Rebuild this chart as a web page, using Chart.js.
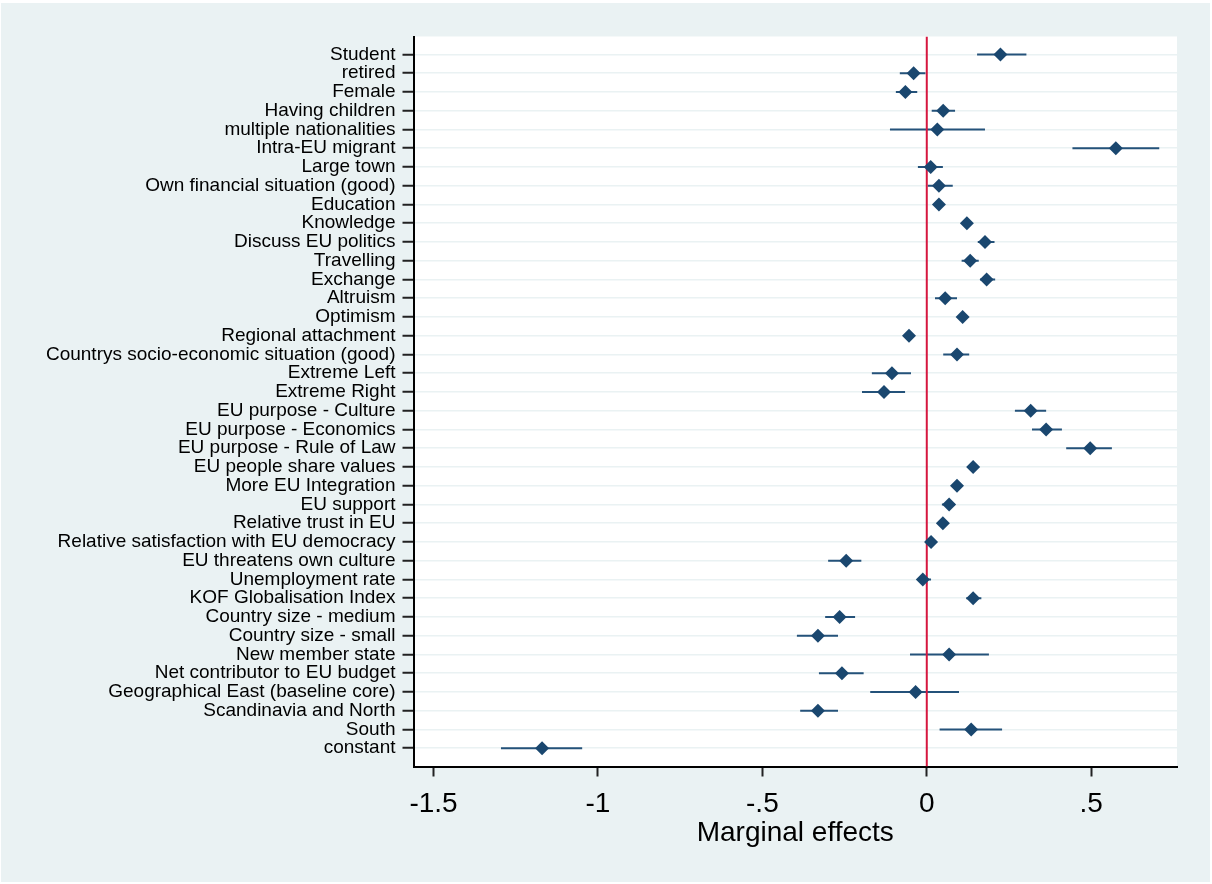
<!DOCTYPE html>
<html>
<head>
<meta charset="utf-8">
<script src="https://cdn.jsdelivr.net/npm/chart.js@4.4.1/dist/chart.umd.min.js"></script>
<style>
  html, body { margin: 0; padding: 0; background: #ffffff; }
  #wrap { position: absolute; left: 1px; top: 3px; width: 1209px; height: 879px; background: #eaf2f3; }
</style>
</head>
<body>
<div id="wrap"><canvas id="coefs" width="1209" height="879"></canvas></div>
<script>
const categories = [
  'Student', 'retired', 'Female', 'Having children', 'multiple nationalities',
  'Intra-EU migrant', 'Large town', 'Own financial situation (good)', 'Education',
  'Knowledge', 'Discuss EU politics', 'Travelling', 'Exchange', 'Altruism', 'Optimism',
  'Regional attachment', 'Countrys socio-economic situation (good)', 'Extreme Left',
  'Extreme Right', 'EU purpose - Culture', 'EU purpose - Economics',
  'EU purpose - Rule of Law', 'EU people share values', 'More EU Integration',
  'EU support', 'Relative trust in EU', 'Relative satisfaction with EU democracy',
  'EU threatens own culture', 'Unemployment rate', 'KOF Globalisation Index',
  'Country size - medium', 'Country size - small', 'New member state',
  'Net contributor to EU budget', 'Geographical East (baseline core)',
  'Scandinavia and North', 'South', 'constant'
];
// point estimates and confidence bounds
const est = [0.224, -0.040, -0.065, 0.050, 0.032, 0.575, 0.012, 0.037, 0.037, 0.122,
  0.177, 0.132, 0.182, 0.056, 0.109, -0.054, 0.092, -0.106, -0.130, 0.316,
  0.363, 0.497, 0.141, 0.092, 0.068, 0.049, 0.013, -0.245, -0.012, 0.141,
  -0.265, -0.331, 0.068, -0.258, -0.034, -0.331, 0.135, -1.170];
const lo = [0.153, -0.082, -0.094, 0.015, -0.112, 0.443, -0.027, 0.003, 0.027, 0.110,
  0.155, 0.106, 0.162, 0.025, 0.097, -0.066, 0.050, -0.167, -0.197, 0.268,
  0.320, 0.424, 0.129, 0.078, 0.046, 0.037, 0.001, -0.300, -0.025, 0.120,
  -0.309, -0.395, -0.051, -0.328, -0.172, -0.385, 0.039, -1.295];
const hi = [0.303, -0.004, -0.029, 0.086, 0.177, 0.707, 0.049, 0.079, 0.047, 0.134,
  0.206, 0.158, 0.208, 0.092, 0.121, -0.042, 0.129, -0.048, -0.066, 0.363,
  0.411, 0.563, 0.153, 0.106, 0.086, 0.061, 0.025, -0.199, 0.013, 0.166,
  -0.218, -0.270, 0.189, -0.192, 0.098, -0.270, 0.229, -1.048];
const xTicks = [-1.5, -1, -0.5, 0, 0.5];
const xTitle = 'Marginal effects';

const navy = '#1a476f';
const yMin = -0.96, yMax = 37.98;

// CI segments in one line dataset, broken by null points
const ciData = [];
categories.forEach((c, i) => {
  ciData.push({ x: lo[i], y: i }, { x: hi[i], y: i }, { x: null, y: i });
});

const plotBg = {
  id: 'plotBg',
  beforeDraw(chart) {
    const a = chart.chartArea, ctx = chart.ctx;
    ctx.save();
    ctx.fillStyle = '#ffffff';
    ctx.fillRect(a.left, a.top, a.right - a.left, a.bottom - a.top);
    ctx.restore();
  }
};

const fmt = v => {
  let s = String(v);
  return s.replace(/^0\./, '.').replace(/^-0\./, '-.');
};

new Chart(document.getElementById('coefs'), {
  type: 'scatter',
  data: {
    datasets: [
      {
        type: 'line',
        data: [{ x: 0, y: yMin }, { x: 0, y: yMax }],
        borderColor: '#d6173f',
        borderWidth: 2,
        pointRadius: 0,
        order: 2
      },
      {
        data: categories.map((c, i) => ({ x: est[i], y: i })),
        pointStyle: 'rectRot',
        pointRadius: 7,
        backgroundColor: navy,
        borderColor: navy,
        borderWidth: 0,
        order: 1
      },
      {
        type: 'line',
        data: ciData,
        borderColor: '#24527a',
        borderWidth: 2,
        pointRadius: 0,
        spanGaps: false,
        order: 3
      }
    ]
  },
  options: {
    responsive: false,
    animation: false,
    events: [],
    layout: { padding: { left: 0, top: 33.5, right: 33, bottom: 31.5 } },
    plugins: { legend: { display: false }, tooltip: { enabled: false } },
    scales: {
      x: {
        type: 'linear',
        min: -1.561,
        max: 0.761,
        afterBuildTicks: axis => { axis.ticks = xTicks.map(v => ({ value: v })); },
        afterFit: axis => { axis.height = 84; },
        border: { color: '#000', width: 2 },
        grid: { drawOnChartArea: false, drawTicks: true, tickLength: 10, tickColor: '#222', tickWidth: 2 },
        ticks: {
          color: '#000',
          padding: 11,
          maxRotation: 0,
          font: { family: 'Liberation Sans, Arial', size: 28 },
          callback: v => fmt(v)
        },
        title: {
          display: true,
          text: xTitle,
          color: '#000',
          padding: 0,
          font: { family: 'Liberation Sans, Arial', size: 28 }
        }
      },
      y: {
        type: 'linear',
        reverse: true,
        min: yMin,
        max: yMax,
        afterBuildTicks: axis => { axis.ticks = categories.map((c, i) => ({ value: i })); },
        afterFit: axis => { axis.width = 412.5; },
        border: { color: '#000', width: 2 },
        grid: { color: '#eaf2f3', lineWidth: 1.5, drawTicks: true, tickLength: 11, tickColor: '#222', tickWidth: 2 },
        ticks: {
          color: '#000',
          padding: 7,
          autoSkip: false,
          font: { family: 'Liberation Sans, Arial', size: 19 },
          callback: v => categories[v]
        }
      }
    }
  },
  plugins: [plotBg]
});
</script>
</body>
</html>
